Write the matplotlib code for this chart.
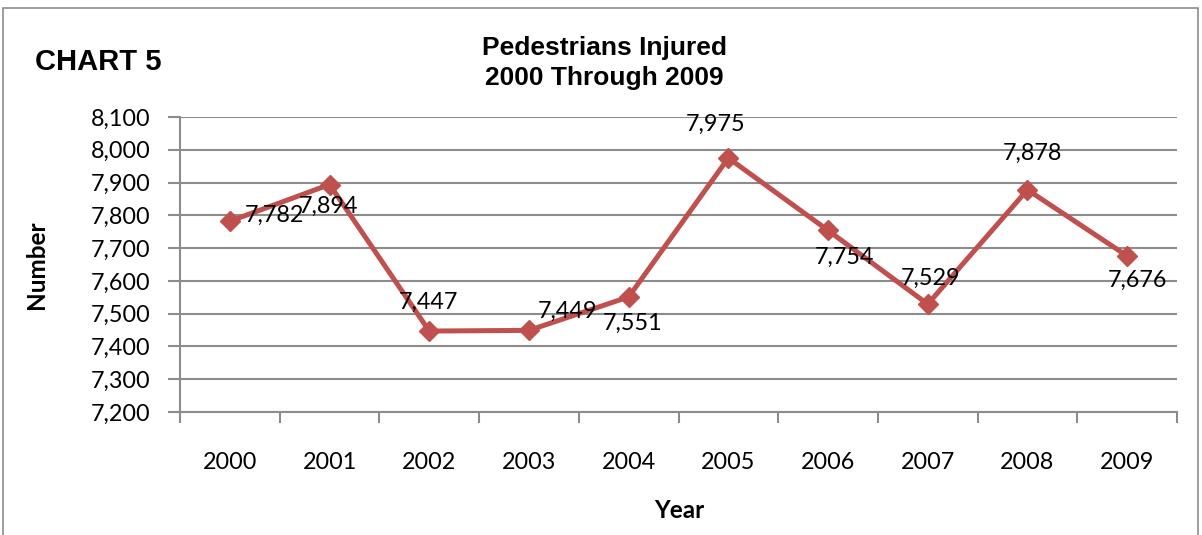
import matplotlib
matplotlib.use("Agg")
import matplotlib.pyplot as plt
from matplotlib.patches import Rectangle
from matplotlib.ticker import FuncFormatter, MultipleLocator, FixedLocator

years = ["2000", "2001", "2002", "2003", "2004", "2005", "2006", "2007", "2008", "2009"]
injured = [7782, 7894, 7447, 7449, 7551, 7975, 7754, 7529, 7878, 7676]
# label offsets in pixels (dx, dy) relative to point, as placed in the source
label_offsets = [(45, 6), (-1, -22), (-1, 29), (39, 19), (4, -26),
                 (-13, 34), (16, -27), (3, 26), (5, 36), (10, -24)]

W, H, DPI = 1202, 535, 100
fig = plt.figure(figsize=(W / DPI, H / DPI), dpi=DPI)
fig.patch.set_facecolor("white")

# outer border
fig.patches.append(Rectangle((3 / W, -0.05), (1198 - 3) / W, (527 / H) + 0.05,
                             transform=fig.transFigure, fill=False,
                             edgecolor="#8c8c8c", linewidth=1.2))

ax = fig.add_axes([180 / W, (535 - 412) / H, (1177 - 180) / W, (412 - 117) / H])
tick_font = "Lato"
fs = 16.8
line_color = "#C0504D"
grid_color = "#8c8c8c"

x = list(range(len(years)))
ax.plot(x, injured, color=line_color, linewidth=3.6, marker="D",
        markersize=10.5, markerfacecolor=line_color, markeredgecolor=line_color,
        zorder=3, clip_on=False)

for xi, v, (dx, dy) in zip(x, injured, label_offsets):
    ax.annotate(f"{v:,}", (xi, v), xytext=(dx, dy), textcoords="offset pixels",
                ha="center", va="center", fontsize=fs, family=tick_font,
                color="black", zorder=4)

ax.set_xlim(-0.5, len(years) - 0.5)
ax.set_ylim(7200, 8100)
ax.yaxis.set_major_locator(MultipleLocator(100))
ax.yaxis.set_major_formatter(FuncFormatter(lambda v, p: f"{int(round(v)):,}"))
ax.set_xticks(x)
ax.set_xticklabels(years)
ax.xaxis.set_minor_locator(FixedLocator([i - 0.5 for i in range(len(years) + 1)]))
ax.tick_params(axis="x", which="major", length=0, pad=29, labelsize=fs)
ax.tick_params(axis="x", which="minor", length=8, width=1.5, color=grid_color, direction="out")
ax.tick_params(axis="y", which="major", length=9, width=1.5, color=grid_color,
               pad=12, labelsize=fs)
for lab in ax.get_xticklabels() + ax.get_yticklabels():
    lab.set_family(tick_font)

ax.grid(axis="y", color=grid_color, linewidth=1.5)
ax.set_axisbelow(True)
for side in ["top", "right"]:
    ax.spines[side].set_visible(False)
for side in ["left", "bottom"]:
    ax.spines[side].set_color(grid_color)
    ax.spines[side].set_linewidth(1.5)

# titles
fig.text(604 / W, 1 - 48 / H, "Pedestrians Injured", ha="center", va="center",
         fontsize=19, fontweight="bold", family="Liberation Sans")
fig.text(604 / W, 1 - 78 / H, "2000 Through 2009", ha="center", va="center",
         fontsize=19, fontweight="bold", family="Liberation Sans")
fig.text(35 / W, 1 - 62 / H, "CHART 5", ha="left", va="center",
         fontsize=21, fontweight="bold", family="Liberation Sans")

fig.text(36 / W, 1 - 265 / H, "Number", ha="center", va="center", rotation=90,
         fontsize=17.5, fontweight="bold", family=tick_font)
fig.text(679 / W, 1 - 510 / H, "Year", ha="center", va="center",
         fontsize=17.5, fontweight="bold", family=tick_font)

fig.savefig("out.png", dpi=DPI)
